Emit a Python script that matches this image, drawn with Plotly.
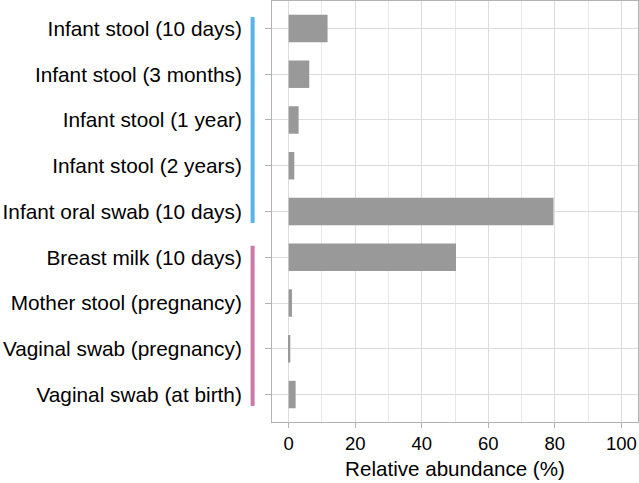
import plotly.graph_objects as go

categories = [
    "Infant stool (10 days)",
    "Infant stool (3 months)",
    "Infant stool (1 year)",
    "Infant stool (2 years)",
    "Infant oral swab (10 days)",
    "Breast milk (10 days)",
    "Mother stool (pregnancy)",
    "Vaginal swab (pregnancy)",
    "Vaginal swab (at birth)",
]
abundance = [11.7, 6.2, 3.0, 1.7, 79.6, 50.3, 1.0, 0.5, 2.1]
groups = ["Infant"] * 5 + ["Mother"] * 4
group_colors = {"Infant": "#56B4E9", "Mother": "#CC79A7"}
x_ticks = [0, 20, 40, 60, 80, 100]

fig = go.Figure()
fig.add_trace(go.Bar(
    y=categories, x=abundance, orientation="h",
    marker=dict(color="#999999", line=dict(width=0)),
    width=0.6, showlegend=False,
))

# group indicator bars
for g, col in group_colors.items():
    idx = [i for i, gg in enumerate(groups) if gg == g]
    fig.add_shape(type="line", xref="paper", yref="y",
                  x0=-0.053, x1=-0.053,
                  y0=min(idx) - 0.25, y1=max(idx) + 0.25,
                  line=dict(color=col, width=4))

fig.update_layout(
    width=639, height=483,
    margin=dict(l=272, r=1, t=1, b=61, autoexpand=False),
    paper_bgcolor="white", plot_bgcolor="white",
    font=dict(family="Liberation Sans, Arial, sans-serif", color="black", size=16),
    bargap=0.4,
)
fig.update_xaxes(
    range=[-5, 105], tickvals=x_ticks, ticktext=[str(v) for v in x_ticks],
    showgrid=True, gridcolor="#dcdcdc", gridwidth=1,
    minor=dict(dtick=10, tick0=0, showgrid=True, gridcolor="#e8e8e8", gridwidth=1),
    ticks="outside", ticklen=5, tickcolor="#b3b3b3",
    showline=True, linecolor="#b3b3b3", linewidth=1, mirror=True,
    zeroline=False, automargin=False,
    title=dict(text="Relative abundance (%)", font=dict(size=20.6), standoff=8),
    tickfont=dict(size=18.5, color="black"),
)
fig.update_yaxes(
    categoryorder="array", categoryarray=categories,
    autorange=False, range=[len(categories) - 0.4, -0.6],
    showgrid=True, gridcolor="#dcdcdc", gridwidth=1,
    ticks="outside", ticklen=6, tickcolor="#b3b3b3",
    showline=True, linecolor="#b3b3b3", linewidth=1, mirror=True,
    zeroline=False, ticklabelstandoff=19, automargin=False,
    tickfont=dict(size=20.8, color="black"),
)
fig.write_html("out.html", config={"displayModeBar": False},
               post_script="document.body.style.margin='0';")
